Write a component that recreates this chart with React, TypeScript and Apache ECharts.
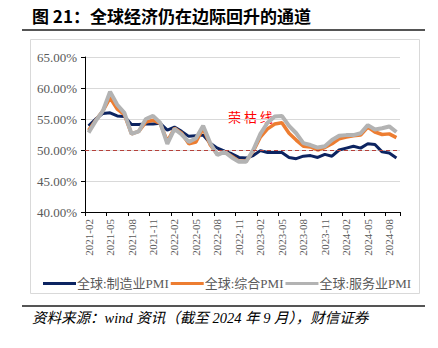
import React, { useEffect, useRef } from "react";
import * as echarts from "echarts";

const months: string[] = [
  "2021-02","2021-03","2021-04","2021-05","2021-06","2021-07","2021-08","2021-09","2021-10","2021-11","2021-12",
  "2022-01","2022-02","2022-03","2022-04","2022-05","2022-06","2022-07","2022-08","2022-09","2022-10","2022-11","2022-12",
  "2023-01","2023-02","2023-03","2023-04","2023-05","2023-06","2023-07","2023-08","2023-09","2023-10","2023-11","2023-12",
  "2024-01","2024-02","2024-03","2024-04","2024-05","2024-06","2024-07","2024-08","2024-09",
];

const manufacturing: number[] = [
  53.9, 55.0, 55.9, 56.0, 55.5, 55.4, 54.1, 54.1, 54.2, 54.2, 54.3,
  53.2, 53.7, 53.0, 52.2, 52.3, 52.4, 51.1, 50.3, 49.8, 49.4, 48.8, 48.7,
  49.1, 49.9, 49.6, 49.6, 49.6, 48.8, 48.6, 49.0, 49.1, 48.8, 49.3, 49.0,
  50.0, 50.3, 50.6, 50.3, 51.0, 50.9, 49.7, 49.5, 48.7,
];

const composite: number[] = [
  53.2, 54.8, 56.3, 58.4, 56.6, 55.7, 52.6, 53.0, 54.5, 54.8, 54.3,
  51.4, 53.5, 52.7, 51.0, 51.3, 53.5, 50.8, 49.3, 49.7, 49.0, 48.2, 48.2,
  49.8, 52.1, 53.4, 54.2, 54.4, 52.7, 51.6, 50.6, 50.5, 50.0, 50.4, 51.0,
  51.8, 52.1, 52.3, 52.4, 53.7, 52.9, 52.5, 52.6, 52.0,
];

const services: number[] = [
  52.8, 54.7, 56.3, 59.4, 57.3, 56.0, 52.6, 53.0, 55.0, 55.5, 54.4,
  51.0, 53.4, 52.5, 51.3, 51.9, 53.9, 51.1, 49.2, 49.7, 48.8, 48.1, 48.1,
  50.0, 52.6, 54.4, 55.4, 55.5, 53.9, 52.7, 51.1, 50.8, 50.4, 50.6, 51.6,
  52.3, 52.4, 52.4, 52.7, 54.0, 53.3, 53.5, 53.8, 52.9,
];

const seriesNames: string[] = ["全球:制造业PMI", "全球:综合PMI", "全球:服务业PMI"];
const seriesColors: string[] = ["#0c2461", "#ed7d31", "#b3b3b3"];
const boomBustLine = 50;

const titleText = "图 21：全球经济仍在边际回升的通道";
const sourceText = "资料来源：wind 资讯（截至 2024 年 9 月），财信证券";
const annotationText = "荣 枯 线";

const SERIF = "'Liberation Serif', 'Times New Roman', 'Noto Sans CJK SC', serif";

export default function App() {
  const ref = useRef<HTMLDivElement>(null);

  useEffect(() => {
    if (!ref.current) return;
    const chart = echarts.init(ref.current, null, { renderer: "svg" });
    const values = [manufacturing, composite, services];
    const widths = [3, 3.5, 4];

    chart.setOption({
      animation: false,
      backgroundColor: "#ffffff",
      grid: { left: 85, right: 38, top: 57, bottom: 136, containLabel: false },
      xAxis: {
        type: "category",
        data: months,
        boundaryGap: true,
        axisLine: { lineStyle: { color: "#000000", width: 1 } },
        axisTick: { show: true, interval: 2, length: 4, lineStyle: { color: "#000000" } },
        axisLabel: {
          interval: 2,
          rotate: 90,
          margin: 7,
          color: "#595959",
          fontSize: 11,
          fontFamily: SERIF,
        },
        splitLine: { show: false },
      },
      yAxis: {
        type: "value",
        min: 40,
        max: 65,
        interval: 5,
        axisLine: { show: true, lineStyle: { color: "#000000", width: 1 } },
        axisTick: { show: true, length: 4, lineStyle: { color: "#000000" } },
        axisLabel: {
          formatter: (v: number) => v.toFixed(2) + "%",
          color: "#595959",
          fontSize: 13,
          margin: 8,
          fontFamily: SERIF,
        },
        splitLine: { show: true, lineStyle: { color: "#d9d9d9", width: 1 } },
      },
      legend: {
        show: true,
        left: 38,
        top: 272,
        icon: "rect",
        itemWidth: 33,
        itemHeight: 3,
        itemGap: 2,
        textStyle: { color: "#595959", fontSize: 13, fontFamily: SERIF, padding: [0, 0, 0, -4] },
        data: seriesNames,
      },
      series: seriesNames.map((name, i) => ({
        name,
        type: "line",
        data: values[i],
        showSymbol: false,
        symbol: "none",
        smooth: false,
        lineStyle: { color: seriesColors[i], width: widths[i] },
        itemStyle: { color: seriesColors[i] },
        z: 2 + i,
        markLine:
          i === 0
            ? {
                silent: true,
                symbol: "none",
                label: { show: false },
                lineStyle: { color: "#b5413b", type: [4, 3], width: 1 },
                data: [{ yAxis: boomBustLine }],
              }
            : undefined,
      })),
      graphic: [
        {
          type: "text",
          left: 32,
          top: 7,
          style: {
            text: titleText,
            fontSize: 17,
            fontWeight: "bold",
            fill: "#000000",
            fontFamily: "'Noto Sans CJK SC', sans-serif",
          },
        },
        {
          type: "line",
          shape: { x1: 22, y1: 30, x2: 425, y2: 30 },
          style: { stroke: "#555555", lineWidth: 2 },
        },
        {
          type: "rect",
          shape: { x: 30.5, y: 39.5, width: 389, height: 254 },
          style: { fill: "none", stroke: "#d9d9d9", lineWidth: 1 },
          z: -1,
        },
        {
          type: "text",
          left: 228,
          top: 110,
          style: {
            text: annotationText,
            fontSize: 13,
            fill: "#ff0000",
            fontFamily: "'Noto Sans CJK SC', sans-serif",
          },
        },
        {
          type: "line",
          shape: { x1: 22, y1: 306, x2: 425, y2: 306 },
          style: { stroke: "#555555", lineWidth: 2 },
        },
        {
          type: "text",
          left: 32,
          top: 311,
          style: {
            text: sourceText,
            fontSize: 14.5,
            fontStyle: "italic",
            fill: "#000000",
            fontFamily: SERIF,
          },
        },
      ],
    });

    return () => chart.dispose();
  }, []);

  return <div ref={ref} style={{ width: 438, height: 348, margin: -8 }} />;
}
